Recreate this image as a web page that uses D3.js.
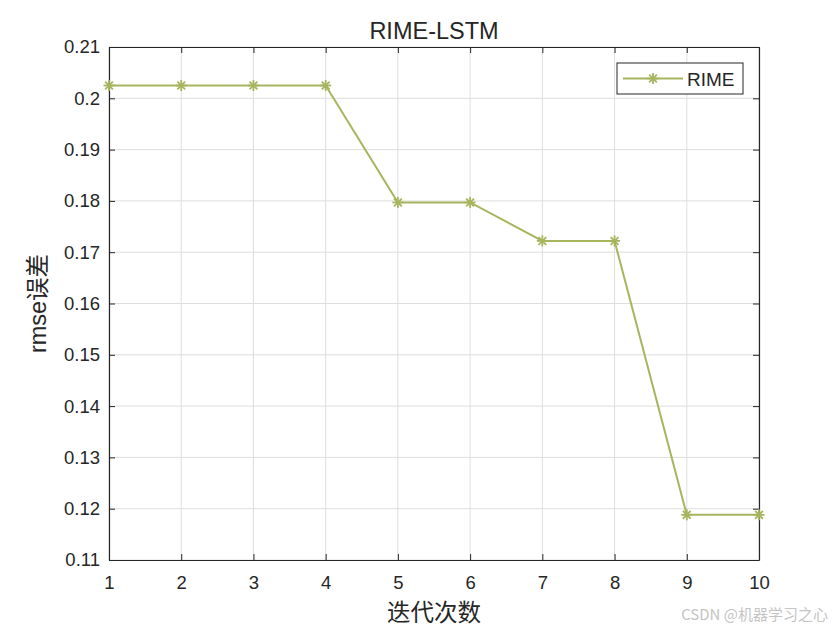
<!DOCTYPE html>
<html lang="en">
<head>
  <meta charset="UTF-8">
  <title>RIME-LSTM</title>
  <script src="https://cdn.jsdelivr.net/npm/d3@7"></script>
  <style>
    body { margin: 0; background: #fff; }
    text { font-family: Arial, "Liberation Sans", sans-serif; fill: #262626; }
  </style>
</head>
<body>
  <div id="chart"></div>

  <script>
    // iteration -> rmse
    const iterations = [1, 2, 3, 4, 5, 6, 7, 8, 9, 10];
    const rmse = [0.2025, 0.2025, 0.2025, 0.2025, 0.1797, 0.1797, 0.1722, 0.1722, 0.1188, 0.1188];
    const yTicks = [0.11, 0.12, 0.13, 0.14, 0.15, 0.16, 0.17, 0.18, 0.19, 0.2, 0.21];
    const seriesName = 'RIME';

    const width = 840, height = 630;
    const margin = {top: 47, right: 81, bottom: 70, left: 109};
    const w = width - margin.left - margin.right,
      h = height - margin.top - margin.bottom;
    const lineColor = '#a8b45e';

    const svg = d3.select('#chart')
      .append('svg')
        .attr('width', width)
        .attr('height', height);

    const g = svg.append('g')
      .attr('transform', `translate(${margin.left},${margin.top})`);

    const x = d3.scaleLinear().domain([1, 10]).range([0, w]);
    const y = d3.scaleLinear().domain([0.11, 0.21]).range([h, 0]);

    // grid
    g.selectAll('.vgrid')
      .data(iterations)
      .join('line')
        .attr('x1', d => x(d)).attr('x2', d => x(d))
        .attr('y1', 0).attr('y2', h)
        .attr('stroke', '#dedede').attr('stroke-width', 1);
    g.selectAll('.hgrid')
      .data(yTicks)
      .join('line')
        .attr('x1', 0).attr('x2', w)
        .attr('y1', d => y(d)).attr('y2', d => y(d))
        .attr('stroke', '#dedede').attr('stroke-width', 1);

    // axes, ticks pointing inward on all four sides
    const fmt = d => String(+d.toFixed(2));
    const axBottom = g.append('g')
      .attr('transform', `translate(0,${h})`)
      .call(d3.axisBottom(x).tickValues(iterations).tickSizeInner(-6).tickSizeOuter(0).tickPadding(16));
    const axLeft = g.append('g')
      .call(d3.axisLeft(y).tickValues(yTicks).tickFormat(fmt).tickSizeInner(-6).tickSizeOuter(0).tickPadding(9));
    const axTop = g.append('g')
      .call(d3.axisTop(x).tickValues(iterations).tickSizeInner(-6).tickSizeOuter(0).tickFormat(''));
    const axRight = g.append('g')
      .attr('transform', `translate(${w},0)`)
      .call(d3.axisRight(y).tickValues(yTicks).tickSizeInner(-6).tickSizeOuter(0).tickFormat(''));

    [axBottom, axLeft, axTop, axRight].forEach(a => {
      a.select('.domain').attr('stroke', '#262626').attr('stroke-width', 1.2);
      a.selectAll('.tick line').attr('stroke', '#262626');
      a.selectAll('.tick text')
        .style('font-size', '18.5px')
        .style('font-family', 'Arial, "Liberation Sans", sans-serif')
        .attr('fill', '#262626');
    });

    // line
    const pts = iterations.map((d, i) => [d, rmse[i]]);
    g.append('path')
      .datum(pts)
      .attr('fill', 'none')
      .attr('stroke', lineColor)
      .attr('stroke-width', 2)
      .attr('d', d3.line().x(d => x(d[0])).y(d => y(d[1])));

    // asterisk markers
    const star = (sel, r) => {
      [0, 45, 90, 135].forEach(a => {
        sel.append('line')
          .attr('x1', -r).attr('x2', r).attr('y1', 0).attr('y2', 0)
          .attr('transform', `rotate(${a})`)
          .attr('stroke', lineColor)
          .attr('stroke-width', 1.8);
      });
    };
    g.selectAll('.marker')
      .data(pts)
      .join('g')
        .attr('transform', d => `translate(${x(d[0])},${y(d[1])})`)
        .each(function() { star(d3.select(this), 5.5); });

    // legend
    const lg = svg.append('g').attr('transform', 'translate(617,63)');
    lg.append('rect')
      .attr('width', 126).attr('height', 31)
      .attr('fill', '#fff').attr('stroke', '#262626').attr('stroke-width', 1);
    lg.append('line')
      .attr('x1', 6).attr('x2', 66).attr('y1', 15.5).attr('y2', 15.5)
      .attr('stroke', lineColor).attr('stroke-width', 2);
    star(lg.append('g').attr('transform', 'translate(36,15.5)'), 5.5);
    lg.append('text')
      .attr('x', 70).attr('y', 22.5)
      .style('font-size', '19px')
      .text(seriesName);

    // title & labels
    svg.append('text')
      .attr('x', margin.left + w / 2).attr('y', 39)
      .attr('text-anchor', 'middle')
      .style('font-size', '23.5px')
      .text('RIME-LSTM');

    svg.append('text')
      .attr('x', margin.left + w / 2).attr('y', 621)
      .attr('text-anchor', 'middle')
      .style('font-size', '23.5px')
      .style('font-family', '"Noto Sans CJK SC", sans-serif')
      .text('迭代次数');

    svg.append('text')
      .attr('transform', `translate(46,${margin.top + h / 2}) rotate(-90)`)
      .attr('text-anchor', 'middle')
      .style('font-size', '23.5px')
      .style('font-family', 'Arial, "Noto Sans CJK SC", sans-serif')
      .text('rmse误差');

    // watermark
    svg.append('text')
      .attr('x', 828).attr('y', 620)
      .attr('text-anchor', 'end')
      .style('font-size', '15px')
      .style('font-family', '"Noto Sans CJK SC", sans-serif')
      .style('fill', '#c4c4c4')
      .text('CSDN @机器学习之心');
  </script>
</body>
</html>
